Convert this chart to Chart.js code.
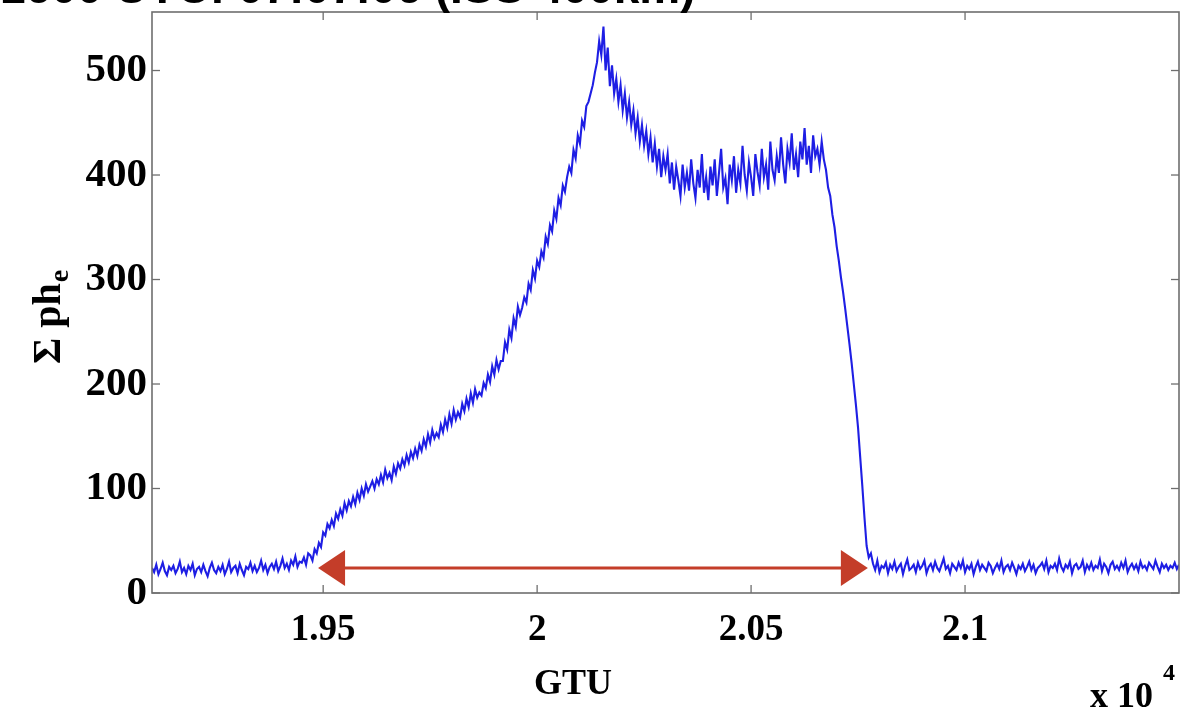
<!DOCTYPE html>
<html>
<head>
<meta charset="utf-8">
<script src="https://cdn.jsdelivr.net/npm/chart.js@4.4.1/dist/chart.umd.min.js"></script>
<style>
  html, body { margin: 0; padding: 0; background: #fff; overflow: hidden; }
  #wrap { position: relative; width: 1181px; height: 709px; overflow: hidden; }
  #heading {
    position: absolute; top: -36px; left: 0; width: 617px;
    text-align: right; white-space: nowrap; color: #000;
    font: bold 46px "Liberation Sans", Arial, sans-serif; line-height: 46px;
    z-index: 2;
  }
  canvas { position: absolute; left: 0; top: 0; }
</style>
</head>
<body>
<div id="wrap">
  <canvas id="gtuChart" width="1181" height="709"></canvas>
  <div id="heading">1600 UTC: 07:07:06 (ISS 400km)</div>
</div>
<script>
// sample grid of the trace (GTU)
const gtuStart = 19100;
const gtuStep = 5;

// photo-electron counts, segment by segment
const baselineBefore = [
  24,20,27,18,23,29,21,17,25,22,
  26,19,23,30,20,24,18,26,22,28,
  17,23,25,20,27,21,16,24,29,22,
  19,25,21,27,18,23,30,20,24,26,
  19,28,22,17,25,23,29,21,26,20,
  24,31,22,27,19,25,28,23,30,21,
  26,33,24,28,22,31,27,35,25,30,
  29,34,27,38
];
const riseValues = [
  36,31,42,38,48,44,58,55,66,62,
  70,64,76,71,80,74,86,79,88,83,
  92,85,96,89,100,93,104,97,102,107,
  100,109,104,113,106,118,110,115,108,121,
  114,124,119,128,122,132,125,135,129,138,
  131,142,136,147,140,152,144,156,148,153,
  149,161,154,166,158,171,162,175,166,173,
  168,181,174,186,178,191,182,195,187,192,
  189,201,196,209,202,217,209,223,214,222,
  222,240,233,252,244,263,255,274,266,273,
  283,278,296,290,309,301,318,312,327,321,
  341,334,352,346,366,358,378,371,390,384,
  398,408,402,424,416,438,430,452,446,466,
  470,478,486,498,508,528,515
];
const plateauValues = [
  542,500,522,485,505,478,492,470,486,462,
  478,455,470,448,462,440,455,432,448,428,
  442,420,436,412,430,408,425,398,418,405,
  420,392,412,386,408,395,380,410,388,402,
  385,415,392,378,405,388,420,383,398,376,
  408,390,415,380,402,425,388,397,372,410,
  395,418,383,405,392,428,400,385,412,398,
  380,420,403,390,425,398,410,386,432,405,
  395,418,402,436,410,392,425,412,440,405,
  420,398,432,415,445,410,428,402,438,418,
  425,410,432,415
];
const dropValues = [
  405,388,380,362,350,332,318,302,288,272,
  255,238,220,200,180,158,130,102,72,45,
  34,38
];
const baselineAfter = [
  28,22,31,20,26,24,29,19,27,23,
  30,21,25,28,18,26,32,22,24,27,
  20,29,23,26,31,19,25,28,22,30,
  24,21,27,33,23,26,19,28,25,22,
  29,24,31,20,26,23,28,18,25,30,
  22,27,24,21,29,26,19,24,28,23,
  31,20,25,27,22,29,24,18,26,23,
  28,21,25,30,22,27,19,24,26,29,
  23,31,20,26,24,28,22,33,25,21,
  27,24,30,19,26,28,23,25,31,20,
  27,23,29,22,26,24,32,21,28,25,
  19,27,30,23,26,22,29,24,31,20,
  25,28,23,27,21,30,24,26,22,29,
  26,23,31,25,20,28,24,27,22,26,
  24,29,23,27
];

const xTickValues = [19500, 20000, 20500, 21000];
const xTickLabels = ['1.95', '2', '2.05', '2.1'];
const yTickValues = [0, 100, 200, 300, 400, 500];

// red double arrow marking the event duration
const arrowSpan = [19488, 20773];
const arrowLevel = 24;

const counts = baselineBefore.concat(riseValues, plateauValues, dropValues, baselineAfter);
const points = counts.map((v, i) => ({ x: gtuStart + i * gtuStep, y: v }));

const serif = "'Liberation Serif', 'Times New Roman', serif";

const decor = {
  id: 'decor',
  afterDraw(chart) {
    const { ctx, chartArea: a, scales: { x, y } } = chart;
    const seg = (x1, y1, x2, y2) => {
      ctx.beginPath(); ctx.moveTo(x1, y1); ctx.lineTo(x2, y2); ctx.stroke();
    };
    ctx.save();

    // axes box
    ctx.strokeStyle = '#6e6e6e';
    ctx.lineWidth = 1.6;
    ctx.strokeRect(a.left, a.top, a.right - a.left, a.bottom - a.top);

    // inward ticks, all four sides
    ctx.lineWidth = 1.3;
    xTickValues.forEach(v => {
      const px = x.getPixelForValue(v);
      seg(px, a.bottom, px, a.bottom - 8);
      seg(px, a.top, px, a.top + 8);
    });
    yTickValues.forEach(v => {
      const py = y.getPixelForValue(v);
      seg(a.left, py, a.left + 8, py);
      seg(a.right, py, a.right - 8, py);
    });

    // arrow
    const xl = x.getPixelForValue(arrowSpan[0]);
    const xr = x.getPixelForValue(arrowSpan[1]);
    const ya = y.getPixelForValue(arrowLevel);
    const head = 27, half = 18;
    ctx.strokeStyle = '#c43d29';
    ctx.fillStyle = '#c43d29';
    ctx.lineWidth = 3;
    seg(xl + head - 2, ya, xr - head + 2, ya);
    ctx.beginPath();
    ctx.moveTo(xl, ya); ctx.lineTo(xl + head, ya - half); ctx.lineTo(xl + head, ya + half);
    ctx.closePath(); ctx.fill();
    ctx.beginPath();
    ctx.moveTo(xr, ya); ctx.lineTo(xr - head, ya - half); ctx.lineTo(xr - head, ya + half);
    ctx.closePath(); ctx.fill();

    // axis titles
    ctx.fillStyle = '#000';
    ctx.textBaseline = 'alphabetic';
    ctx.textAlign = 'center';
    ctx.font = 'bold 36px ' + serif;
    ctx.fillText('GTU', 573, 694);

    ctx.textAlign = 'left';
    ctx.font = 'bold 36px ' + serif;
    ctx.fillText('x 10', 1090, 707);
    ctx.font = 'bold 24px ' + serif;
    ctx.fillText('4', 1163, 680);

    ctx.translate(60, 364);
    ctx.rotate(-Math.PI / 2);
    ctx.font = 'bold 40px ' + serif;
    ctx.fillText('\u03A3 ph', 0, 0);
    const w = ctx.measureText('\u03A3 ph').width;
    ctx.font = 'bold 28px ' + serif;
    ctx.fillText('e', w + 1, 8);

    ctx.restore();
  }
};

new Chart(document.getElementById('gtuChart').getContext('2d'), {
  type: 'line',
  data: {
    datasets: [{
      data: points,
      borderColor: 'rgb(30,30,228)',
      borderWidth: 2.1,
      pointRadius: 0,
      tension: 0,
      fill: false
    }]
  },
  options: {
    responsive: false,
    animation: false,
    devicePixelRatio: 1,
    layout: { padding: { top: 12, right: 2, left: 0, bottom: 0 } },
    plugins: { legend: { display: false }, tooltip: { enabled: false } },
    scales: {
      x: {
        type: 'linear',
        min: 19100,
        max: 21500,
        grid: { display: false, drawTicks: false },
        border: { display: false },
        afterBuildTicks: s => { s.ticks = xTickValues.map(v => ({ value: v })); },
        afterFit: s => { s.height = 116; s.paddingLeft = 0; s.paddingRight = 0; },
        ticks: {
          autoSkip: false,
          maxRotation: 0,
          padding: 15,
          color: '#000',
          font: { family: serif, size: 37, weight: 'bold' },
          callback: v => xTickLabels[xTickValues.indexOf(v)]
        }
      },
      y: {
        min: 0,
        max: 556,
        grid: { display: false, drawTicks: false },
        border: { display: false },
        afterBuildTicks: s => { s.ticks = yTickValues.map(v => ({ value: v })); },
        afterFit: s => { s.width = 152; s.paddingTop = 0; s.paddingBottom = 0; },
        ticks: {
          padding: 5,
          color: '#000',
          font: { family: serif, size: 41, weight: 'bold' }
        }
      }
    }
  },
  plugins: [decor]
});
</script>
</body>
</html>
